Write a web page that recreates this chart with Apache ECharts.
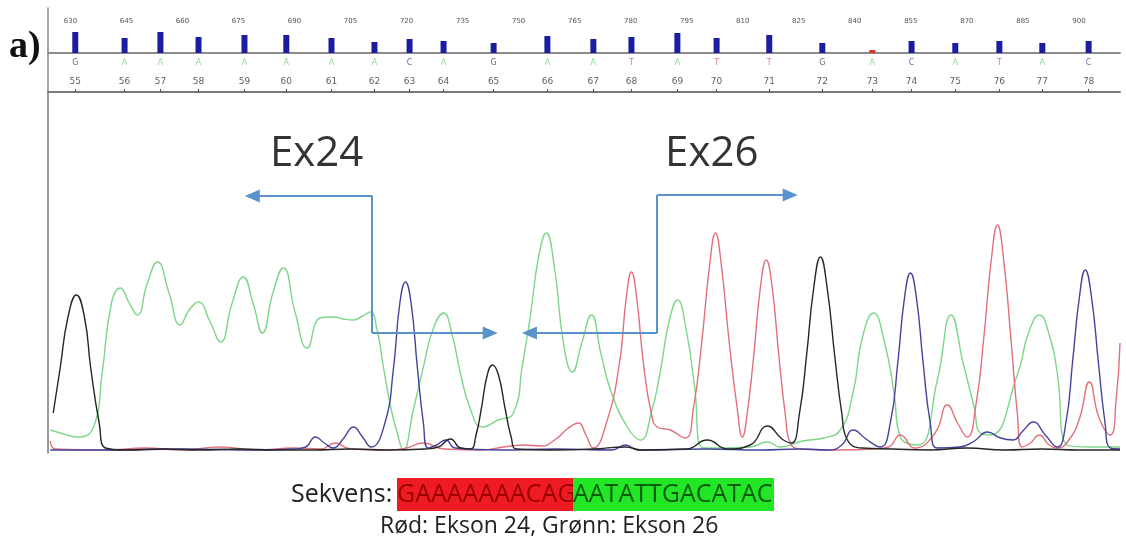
<!DOCTYPE html>
<html><head><meta charset="utf-8">
<script src="https://cdn.jsdelivr.net/npm/echarts@6/dist/echarts.min.js"></script>
<style>html,body{margin:0;padding:0;background:#fff}#c{width:1126px;height:546px}</style>
</head><body><div id="c"></div>
<script>
// ---- data ----
const scanTicks = [630,645,660,675,690,705,720,735,750,765,780,795,810,825,840,855,870,885,900];
const baseNumbers = [55,56,57,58,59,60,61,62,63,64,65,66,67,68,69,70,71,72,73,74,75,76,77,78];
const baseLetters = ['G','A','A','A','A','A','A','A','C','A','G','A','A','T','A','T','T','G','A','C','A','T','A','C'];
const basePositions = [631.3,644.5,654.1,664.3,676.6,687.8,699.9,711.4,720.8,729.9,743.3,757.7,770.0,780.2,792.5,803.0,817.1,831.3,844.7,855.2,866.9,878.7,890.2,902.6];
const qualityValues = [21,15,21,16,18,18,15,11,14,12,10,17,14,16,20,15,18,10,3,12,10,12,10,12];

const traceA = [[624.6,23],[627.3,20],[631.9,16],[636.2,26],[638.5,80],[641.0,150],[643.4,165],[645.6,151],[647.9,138],[650.6,170],[653.3,191],[656.4,160],[659.4,128],[661.8,143],[664.3,151],[667.3,132],[670.2,111],[673.3,150],[676.3,176],[678.9,150],[681.4,120],[684.2,160],[687.0,185],[690.2,140],[693.4,105],[696.9,135],[700.4,136],[703.1,134],[705.8,133],[708.2,137],[710.3,141],[712.0,125],[713.8,86],[715.8,45],[717.5,20],[719.1,3],[721.8,43],[724.5,86],[727.2,125],[729.9,140],[732.2,118],[734.4,80],[737.0,45],[740.3,26],[744.5,33],[748.6,40],[751.0,88],[753.1,136],[755.3,195],[757.4,220],[759.6,185],[762.0,110],[764.4,81],[766.9,110],[769.5,138],[772.0,100],[774.6,63],[779.1,26],[782.6,13],[785.5,40],[788.0,83],[790.2,130],[792.5,153],[795.0,120],[797.0,70],[799.5,5],[805,5],[812,6],[816.6,11],[820,6],[826,12],[831.6,15],[836.1,23],[839.5,60],[842.0,115],[845.0,140],[848.0,110],[850.5,60],[852.2,16],[857.0,8],[862.1,73],[865.8,138],[869.0,90],[872.0,45],[873.6,20],[876.3,18],[883.5,78],[886.5,120],[889.4,138],[892.3,115],[894.2,80],[896.9,8],[903,6],[911,6]];
const traceG = [[625.4,40],[627.3,86],[629.3,135],[631.6,158],[633.8,135],[635.4,86],[637.7,30],[639.4,5],[645,3],[655,4],[665,3],[675,4],[685,3],[695,3],[705,4],[715,3],[725,4],[728.5,6],[731.7,14],[734.5,5],[737.1,4],[738.6,18],[740.0,44],[741.6,78],[743.0,88],[744.6,78],[746.4,44],[748.0,16],[749.5,4],[760,3],[770,4],[778.6,6],[783,3],[795,4],[800.5,13],[806,4],[812,8],[816.6,27],[820.5,14],[823.0,10],[825.2,40],[827.1,98],[829.0,165],[830.8,196],[832.6,165],[834.6,98],[836.5,40],[838.0,13],[842,5],[850,4],[860,3],[870,5],[880,3],[890,4],[900,3],[911,3]];
const traceC = [[624.6,3],[640,3],[660,4],[680,3],[690,4],[693,6],[695.6,16],[698,10],[700.4,5],[703,14],[705.8,26],[708.2,16],[710.5,6],[714.2,30],[716.5,85],[718.2,150],[719.7,171],[721.2,150],[722.9,85],[724.5,30],[725.8,5],[728,8],[730.5,13],[733,5],[745,3],[760,4],[775,3],[778.6,8],[782,3],[800,4],[815,3],[825,4],[833,3],[836.5,8],[839.6,23],[843,14],[846.8,6],[849.5,30],[851.5,90],[853.3,155],[854.9,180],[856.5,155],[858.3,90],[860.2,30],[862.1,5],[868,6],[872,12],[875.5,21],[879,15],[882.4,13],[885,22],[887.8,31],[891,18],[894.2,6],[896.5,30],[898.3,91],[900.1,155],[901.7,183],[903.4,155],[905.2,91],[907,30],[908.4,5],[911,4]];
const traceT = [[624.6,12],[626,4],[640,3],[650,5],[660,3],[670,6],[680,3],[690,5],[697,4],[700.9,10],[705,4],[715,3],[720,5],[724.5,10],[730,4],[740,3],[746,6],[751.5,8],[756,7],[760,14],[763,24],[766.0,30],[768,18],[770.0,5],[773.5,30],[777.0,90],[778.8,155],[780.2,181],[781.6,155],[783.4,90],[785.5,40],[787.1,26],[790.6,23],[794.6,15],[796.8,45],[799.0,110],[801.2,190],[802.7,220],[804.2,190],[806.4,110],[808.5,45],[809.9,16],[811.2,40],[812.9,96],[814.8,168],[816.3,193],[817.8,168],[819.7,96],[821.5,35],[822.7,10],[826,4],[835,3],[845,4],[849,6],[852.2,18],[856,5],[861.5,20],[864.8,48],[867.5,30],[870.1,16],[872.5,50],[874.5,114],[876.6,195],[878.2,228],[879.8,195],[881.8,114],[883.5,40],[884.8,6],[887,10],[889.4,18],[892,8],[894.2,5],[897.5,14],[900.2,35],[902.8,71],[905.4,35],[908.4,18],[910,55],[911,110]];

const exonLabels = ['Ex24','Ex26'];
const exonLabelPos = [[695.9,299],[801.7,299]];
const ex24Arrow = [[678.7,257],[710.8,257],[710.8,120],[742.4,120]];
const ex26Arrow = [[752.9,120],[787.1,120],[787.1,258],[822.7,258]];
const seqExon24 = 'GAAAAAAACAG';
const seqExon26 = 'AATATTGACATAC';
const seqPrefix = 'Sekvens:';
const legendLine = 'Rød: Ekson 24, Grønn: Ekson 26';
const panelLabel = 'a)';

// ---- styling ----
const letterColor = {A:'#6fd07a', C:'#4a4aa0', G:'#444444', T:'#d8606e'};
const traceColor = {A:'#7ed688', C:'#43439e', G:'#262626', T:'#e2707c'};
const arrowColor = '#5a93c9';

function arrowLines(path){
  const n = path.length;
  const segs = [];
  for (let i = 0; i < n - 1; i++) {
    const a = {coord: path[i], symbol: 'none'};
    const b = {coord: path[i+1], symbol: 'none'};
    if (i === 0) a.symbol = 'triangle';
    if (i === n - 2) b.symbol = 'triangle';
    segs.push([a, b]);
  }
  return segs;
}

const chart = echarts.init(document.getElementById('c'), null, {renderer:'canvas'});
const lineSeries = (name, data, color) => ({
  type:'line', name, xAxisIndex:2, yAxisIndex:1, data, smooth:0.5,
  symbol:'none', silent:true, lineStyle:{color, width:1.4}, z:3
});

const option = {
  animation:false,
  backgroundColor:'#ffffff',
  title:[
    {text:panelLabel, left:9, top:28, padding:0,
     textStyle:{fontFamily:'Liberation Serif', fontWeight:'bold', fontSize:38, color:'#111'}},
    {text:'{a|' + seqPrefix + '}{r|' + seqExon24 + '}{g|' + seqExon26 + '}', left:291, top:478, padding:0,
     textStyle:{fontWeight:'normal', rich:{
       a:{fontFamily:'Open Sans', fontWeight:'normal', fontSize:25, color:'#222', width:106, height:33, lineHeight:33},
       r:{fontFamily:'Open Sans', fontWeight:'normal', fontSize:25, color:'#9a0000', backgroundColor:'#ee1c22', width:176, height:33, lineHeight:33, align:'left'},
       g:{fontFamily:'Open Sans', fontWeight:'normal', fontSize:25, color:'#0c5c0c', backgroundColor:'#22e626', width:201, height:33, lineHeight:33, align:'left'}
     }}},
    {text:legendLine, left:380, top:515, padding:0,
     textStyle:{fontFamily:'Open Sans', fontSize:23, fontWeight:'normal', color:'#222'}}
  ],
  grid:[
    {left:48, right:6, top:8, height:84},
    {left:48, right:6, top:93, height:360}
  ],
  xAxis:[
    {gridIndex:0, type:'value', min:624, max:911, position:'top', offset:-20,
     axisLine:{show:true, lineStyle:{color:'#8c8c8c', width:2}}, axisTick:{show:false}, splitLine:{show:false},
     axisLabel:{show:true, customValues:scanTicks, fontSize:7, color:'#555', margin:3, fontFamily:'DejaVu Sans'}},
    {gridIndex:0, type:'value', min:624, max:911, position:'bottom',
     axisLine:{show:true, lineStyle:{color:'#7a7a7a', width:2}},
     axisTick:{show:true, customValues:basePositions, inside:true, length:3, lineStyle:{color:'#555'}},
     axisLabel:{show:false}, splitLine:{show:false}},
    {gridIndex:1, type:'value', min:624, max:911, show:false}
  ],
  yAxis:[
    {gridIndex:0, type:'value', min:-39, max:45, axisLine:{show:true, lineStyle:{color:'#8a8a8a', width:1.5}},
     axisTick:{show:false}, axisLabel:{show:false}, splitLine:{show:false}},
    {gridIndex:1, type:'value', min:0, max:360, axisLine:{show:true, lineStyle:{color:'#777', width:1.5}},
     axisTick:{show:false}, axisLabel:{show:false}, splitLine:{show:false}}
  ],
  series:[
    {type:'bar', xAxisIndex:0, yAxisIndex:0, barWidth:6, silent:true,
     data: basePositions.map((p,i)=>({value:[p, qualityValues[i]], itemStyle:{color: qualityValues[i] < 5 ? '#e0302a' : '#1c1ca0'}}))},
    {type:'scatter', xAxisIndex:0, yAxisIndex:0, symbolSize:1, silent:true, itemStyle:{color:'rgba(0,0,0,0)'},
     data: basePositions.map((p,i)=>({value:[p,-10], label:{color: letterColor[baseLetters[i]]}})),
     label:{show:true, position:'inside', fontSize:8, fontFamily:'DejaVu Sans', formatter: p => baseLetters[p.dataIndex]}},
    {type:'scatter', xAxisIndex:0, yAxisIndex:0, symbolSize:1, silent:true, itemStyle:{color:'rgba(0,0,0,0)'},
     data: basePositions.map((p,i)=>[p,-28.5]),
     label:{show:true, position:'inside', fontSize:9, fontFamily:'DejaVu Sans', color:'#333', formatter: p => String(baseNumbers[p.dataIndex])}},
    lineSeries('A', traceA, traceColor.A),
    lineSeries('T', traceT, traceColor.T),
    lineSeries('C', traceC, traceColor.C),
    lineSeries('G', traceG, traceColor.G),
    {type:'scatter', xAxisIndex:2, yAxisIndex:1, symbolSize:1, silent:true, itemStyle:{color:'rgba(0,0,0,0)'},
     data: exonLabelPos.map(p=>p),
     label:{show:true, position:'inside', fontSize:42, fontFamily:'Open Sans', color:'#000', formatter: p => exonLabels[p.dataIndex]},
     markLine:{silent:true, animation:false, symbolSize:[13,15], precision:2,
       label:{show:false}, lineStyle:{color:arrowColor, width:2, type:'solid'},
       emphasis:{disabled:true},
       data: arrowLines(ex24Arrow).concat(arrowLines(ex26Arrow))},
     z:5}
  ]
};
chart.setOption(option);
</script>
</body></html>
